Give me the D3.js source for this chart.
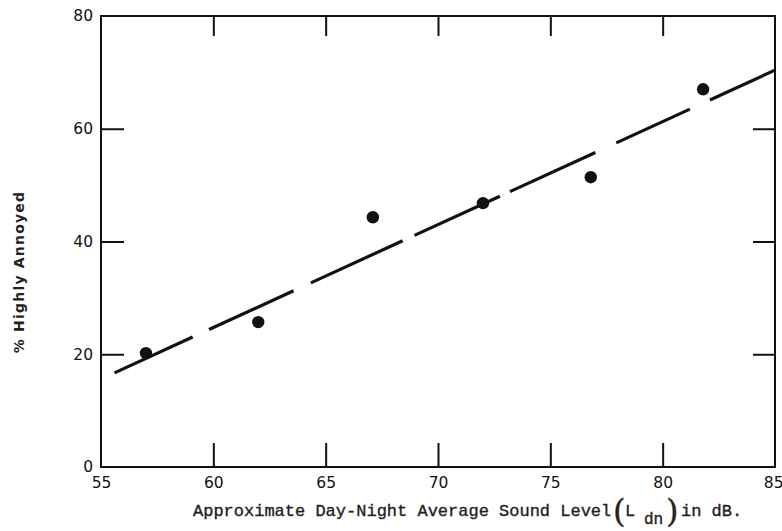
<!DOCTYPE html>
<html>
<head>
<meta charset="utf-8">
<script src="https://cdn.jsdelivr.net/npm/d3@7"></script>
<style>
  html, body { margin: 0; padding: 0; background: #fff; }
  svg { display: block; }
</style>
</head>
<body>
<svg id="chart" width="782" height="531"></svg>
<script>
// ---- data ----
const soundLevel = [57, 62, 67.1, 72, 76.8, 81.8];
const pctAnnoyed = [20.2, 25.7, 44.3, 46.8, 51.4, 67.0];
const fitX = [55.6, 85];
const fitY = [16.7, 70.4];
const xTicks = [55, 60, 65, 70, 75, 80, 85];
const yTicks = [0, 20, 40, 60, 80];
const yTitle = "% Highly Annoyed";
const xTitleMain = "Approximate Day-Night Average Sound Level";
const xTitleSym = "L";
const xTitleSub = "dn";
const xTitleEnd = "in dB.";

// ---- layout ----
const svg = d3.select("#chart");
const L = 101, R = 775, T = 16, B = 467;
const x = d3.scaleLinear().domain([55, 85]).range([L, R]);
const y = d3.scaleLinear().domain([0, 80]).range([B, T]);
const ink = "#111";
const tickFont = "'DejaVu Sans', sans-serif";

// frame
svg.append("rect")
  .attr("x", L).attr("y", T).attr("width", R - L).attr("height", B - T)
  .attr("fill", "none").attr("stroke", ink).attr("stroke-width", 2);

function styleAxis(g) {
  g.select(".domain").remove();
  g.selectAll(".tick line").attr("stroke", ink).attr("stroke-width", 2);
  g.selectAll(".tick text").attr("fill", ink)
    .attr("font-family", tickFont).attr("font-size", 15.5);
}

// bottom axis (labels + inward ticks)
svg.append("g").attr("transform", `translate(0,${B})`)
  .call(d3.axisBottom(x).tickValues(xTicks).tickSizeInner(-24).tickSizeOuter(0).tickPadding(10).tickFormat(d3.format("d")))
  .call(styleAxis)
  .call(g => g.selectAll(".tick").filter(d => d === 55 || d === 85).select("line").remove())
  .call(g => g.selectAll(".tick").filter(d => d === 85).select("text").attr("text-anchor", "end").attr("dx", 8));

// top axis (inward ticks only)
svg.append("g").attr("transform", `translate(0,${T})`)
  .call(d3.axisTop(x).tickValues(xTicks.slice(1, -1)).tickSizeInner(-20).tickSizeOuter(0).tickFormat(""))
  .call(styleAxis);

// left axis
svg.append("g").attr("transform", `translate(${L},0)`)
  .call(d3.axisLeft(y).tickValues(yTicks).tickSizeInner(-23).tickSizeOuter(0).tickPadding(8).tickFormat(d3.format("d")))
  .call(styleAxis)
  .call(g => g.selectAll(".tick").filter(d => d === 0 || d === 80).select("line").remove());

// right axis
svg.append("g").attr("transform", `translate(${R},0)`)
  .call(d3.axisRight(y).tickValues(yTicks.slice(1, -1)).tickSizeInner(-22).tickSizeOuter(0).tickFormat(""))
  .call(styleAxis);

// fitted dashed line
const fitData = fitX.map((v, i) => [v, fitY[i]]);
svg.append("path")
  .datum(fitData)
  .attr("d", d3.line().x(d => x(d[0])).y(d => y(d[1])))
  .attr("fill", "none").attr("stroke", ink).attr("stroke-width", 3.2)
  .attr("stroke-dasharray", "86 18 93 19 101 13 94 11 94 23 81 22 80");

// points
svg.append("g").selectAll("circle")
  .data(soundLevel.map((v, i) => [v, pctAnnoyed[i]]))
  .join("circle")
  .attr("cx", d => x(d[0])).attr("cy", d => y(d[1])).attr("r", 6.2)
  .attr("fill", ink);

// y title
svg.append("text")
  .attr("transform", "translate(24,272) rotate(-90)")
  .attr("text-anchor", "middle")
  .attr("font-family", "'DejaVu Sans', sans-serif")
  .attr("font-size", 14).attr("font-weight", "bold")
  .attr("letter-spacing", 1.2)
  .attr("fill", "#222")
  .text(yTitle);

// x title
const xt = svg.append("text")
  .attr("y", 516)
  .attr("font-family", "'Liberation Mono', 'DejaVu Sans Mono', monospace")
  .attr("fill", "#222").attr("stroke", "#222").attr("stroke-width", 0.35)
  .attr("font-size", 17);
xt.append("tspan").attr("x", 193).text(xTitleMain);
xt.append("tspan").attr("x", 613).attr("y", 522).attr("font-size", 32)
  .attr("font-family", "'DejaVu Serif', serif").attr("font-weight", "200").text("(");
xt.append("tspan").attr("x", 625).attr("y", 516).text(xTitleSym);
xt.append("tspan").attr("x", 644).attr("y", 524).attr("font-size", 16).text(xTitleSub);
xt.append("tspan").attr("x", 666).attr("y", 522).attr("font-size", 32)
  .attr("font-family", "'DejaVu Serif', serif").attr("font-weight", "200").text(")");
xt.append("tspan").attr("x", 681).attr("y", 516).text(xTitleEnd);
</script>
</body>
</html>
